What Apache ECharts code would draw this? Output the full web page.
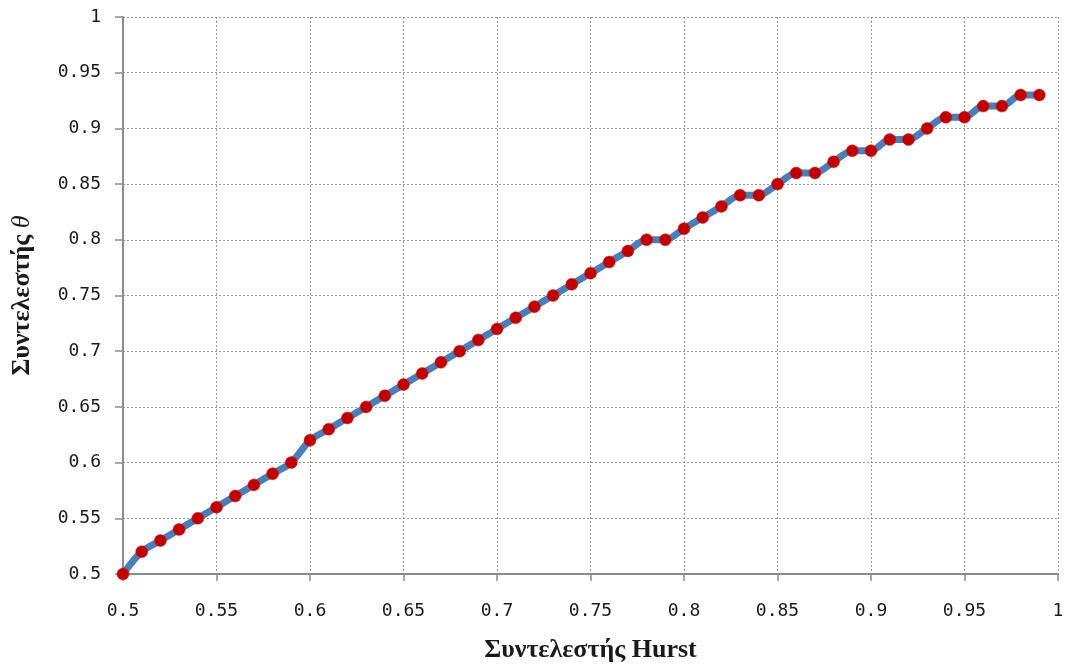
<!DOCTYPE html>
<html>
<head>
<meta charset="utf-8">
<script src="https://cdn.jsdelivr.net/npm/echarts@6/dist/echarts.min.js"></script>
<style>
  html, body { margin: 0; padding: 0; background: #ffffff; }
  #chart { width: 1068px; height: 668px; }
</style>
</head>
<body>
<div id="chart"></div>
<script>
// Hurst coefficient (x) against coefficient θ (y)
const hurst = [
  0.50, 0.51, 0.52, 0.53, 0.54, 0.55, 0.56, 0.57, 0.58, 0.59,
  0.60, 0.61, 0.62, 0.63, 0.64, 0.65, 0.66, 0.67, 0.68, 0.69,
  0.70, 0.71, 0.72, 0.73, 0.74, 0.75, 0.76, 0.77, 0.78, 0.79,
  0.80, 0.81, 0.82, 0.83, 0.84, 0.85, 0.86, 0.87, 0.88, 0.89,
  0.90, 0.91, 0.92, 0.93, 0.94, 0.95, 0.96, 0.97, 0.98, 0.99
];
const theta = [
  0.50, 0.52, 0.53, 0.54, 0.55, 0.56, 0.57, 0.58, 0.59, 0.60,
  0.62, 0.63, 0.64, 0.65, 0.66, 0.67, 0.68, 0.69, 0.70, 0.71,
  0.72, 0.73, 0.74, 0.75, 0.76, 0.77, 0.78, 0.79, 0.80, 0.80,
  0.81, 0.82, 0.83, 0.84, 0.84, 0.85, 0.86, 0.86, 0.87, 0.88,
  0.88, 0.89, 0.89, 0.90, 0.91, 0.91, 0.92, 0.92, 0.93, 0.93
];
const xTitle = 'Συντελεστής Hurst';
const yTitle = 'Συντελεστής';
const ySymbol = 'θ';

const points = hurst.map((h, i) => [h, theta[i]]);

const labelFont = {
  color: '#1a1a1a',
  fontFamily: '"DejaVu Sans Mono", monospace',
  fontSize: 18
};
const titleFont = {
  color: '#1a1a1a',
  fontFamily: '"Liberation Serif", "DejaVu Serif", serif',
  fontSize: 26,
  fontWeight: 'bold'
};
const gridLine = { show: true, lineStyle: { color: '#9a9a9a', type: [2, 2], width: 1 } };
const axisLine = { show: true, onZero: false, lineStyle: { color: '#8c8c8c', width: 2 } };

const chart = echarts.init(document.getElementById('chart'), null, { renderer: 'canvas' });
chart.setOption({
  backgroundColor: '#ffffff',
  animation: false,
  grid: { left: 123, right: 10, top: 17, bottom: 93, containLabel: false },
  xAxis: {
    type: 'value',
    min: 0.5, max: 1, interval: 0.05,
    axisLine: axisLine,
    axisTick: { show: true, length: 7, lineStyle: { color: '#8c8c8c', width: 1.5 } },
    axisLabel: Object.assign({ margin: 28, formatter: v => String(+v.toFixed(2)) }, labelFont),
    splitLine: gridLine,
    name: xTitle,
    nameLocation: 'middle',
    nameGap: 63,
    nameTextStyle: titleFont
  },
  yAxis: {
    type: 'value',
    min: 0.5, max: 1, interval: 0.05,
    axisLine: axisLine,
    axisTick: { show: true, length: 8, lineStyle: { color: '#8c8c8c', width: 1.5 } },
    axisLabel: Object.assign({ margin: 22, formatter: v => String(+v.toFixed(2)) }, labelFont),
    splitLine: gridLine,
    name: '{a|' + yTitle + ' }{b|' + ySymbol + '}',
    nameLocation: 'middle',
    nameGap: 88,
    nameTextStyle: Object.assign({}, titleFont, {
      rich: {
        a: titleFont,
        b: Object.assign({}, titleFont, { fontStyle: 'italic', fontWeight: 'normal' })
      }
    })
  },
  series: [{
    type: 'line',
    data: points,
    smooth: 0.3,
    showSymbol: true,
    symbol: 'circle',
    symbolSize: 12,
    lineStyle: { color: '#4a7ebb', width: 7 },
    itemStyle: { color: '#c00000', borderColor: '#d11a1a', borderWidth: 0.5 },
    z: 3
  }]
});
</script>
</body>
</html>
